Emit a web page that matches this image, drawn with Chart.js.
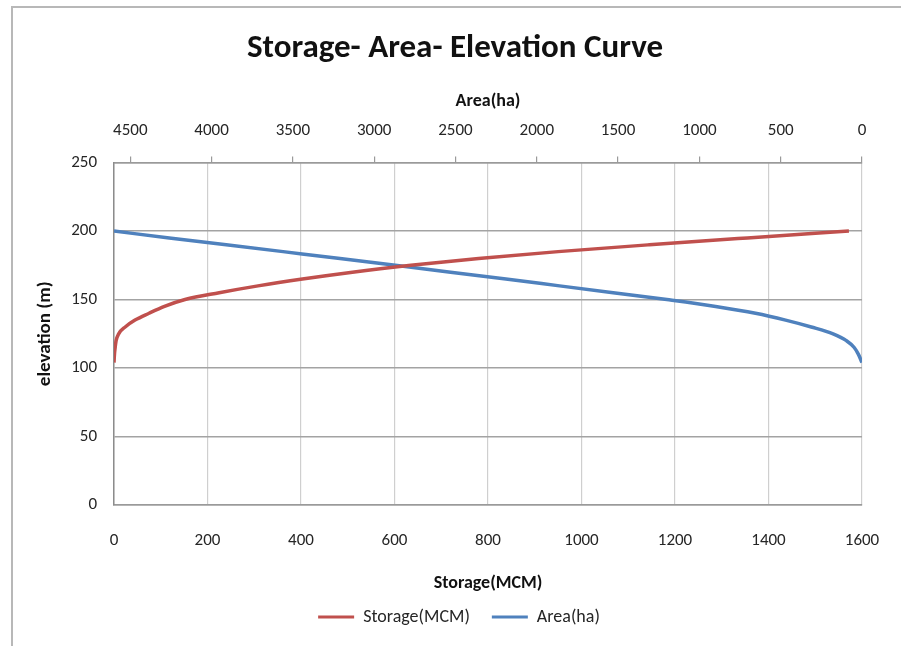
<!DOCTYPE html>
<html>
<head>
<meta charset="utf-8">
<title>Storage- Area- Elevation Curve</title>
<script src="https://cdn.jsdelivr.net/npm/chart.js@4.4.1/dist/chart.umd.min.js"></script>
<style>
  html, body { margin: 0; padding: 0; background: #fff; overflow: hidden; }
  #frame {
    position: absolute; left: 11px; top: 6px; width: 1000px; height: 1000px;
    border-left: 2px solid #b8b8b8; border-top: 2px solid #b8b8b8;
  }
  #chart { position: absolute; left: 0; top: 0; }
</style>
</head>
<body>
<div id="frame"></div>
<canvas id="chart" width="901" height="646"></canvas>
<script>
// Reservoir levels (m) with the matching storage and surface area
const elevation  = [104, 110, 115, 120, 125, 130, 135, 140, 145, 150, 155, 160, 165, 170, 175, 180, 185, 190, 195, 200];
const storageMCM = [0, 1, 2.5, 4.5, 10, 24, 45, 75, 108, 152, 225, 308, 403, 510, 635, 780, 950, 1145, 1355, 1572];
const areaHa     = [0, 22, 48, 96, 178, 312, 470, 655, 900, 1200, 1530, 1860, 2190, 2530, 2870, 3210, 3560, 3910, 4260, 4600];

// Axis tick values
const storageTicks   = [0, 200, 400, 600, 800, 1000, 1200, 1400, 1600];
const areaTicks      = [4500, 4000, 3500, 3000, 2500, 2000, 1500, 1000, 500, 0];
const elevationTicks = [0, 50, 100, 150, 200, 250];

const FONT = 'Carlito, Lato, "Open Sans", sans-serif';
const TEXT = '#262626';

const toPoints = (xs) => xs.map((v, i) => ({ x: v, y: elevation[i] }));
const fixedTicks = (values) => (scale) => { scale.ticks = values.map(v => ({ value: v })); };
const plainLabel = (value) => String(value);
const noSidePadding = (height) => (scale) => {
  scale.height = height;
  scale.paddingLeft = 0;
  scale.paddingRight = 0;
};

// Centres the title and legend rows a little right of the plot centre
const centreShift = {
  id: 'centreShift',
  afterLayout(chart) {
    const moves = [[chart.titleBlock, 19], [chart.legend, 23]];
    for (const [box, dx] of moves) {
      if (!box) continue;
      box.left += dx;
      box.right += dx;
    }
  }
};

new Chart(document.getElementById('chart'), {
  type: 'scatter',
  data: {
    datasets: [
      {
        label: 'Storage(MCM)',
        data: toPoints(storageMCM),
        xAxisID: 'x',
        yAxisID: 'y',
        showLine: true,
        borderColor: '#C0504D',
        backgroundColor: '#C0504D',
        borderWidth: 3.5,
        pointRadius: 0,
        cubicInterpolationMode: 'monotone'
      },
      {
        label: 'Area(ha)',
        data: toPoints(areaHa),
        xAxisID: 'x2',
        yAxisID: 'y',
        showLine: true,
        borderColor: '#4F81BD',
        backgroundColor: '#4F81BD',
        borderWidth: 3.5,
        pointRadius: 0,
        cubicInterpolationMode: 'monotone'
      }
    ]
  },
  options: {
    responsive: false,
    animation: false,
    layout: { padding: { top: 29, left: 10, right: 39, bottom: 10 } },
    plugins: {
      tooltip: { enabled: false },
      title: {
        display: true,
        text: 'Storage- Area- Elevation Curve',
        color: '#111',
        font: { family: FONT, size: 33, weight: 'bold' },
        padding: { top: 0, bottom: 0 }
      },
      legend: {
        position: 'bottom',
        labels: {
          color: TEXT,
          font: { family: FONT, size: 18 },
          boxWidth: 36,
          boxHeight: 3,
          padding: 22,
          generateLabels(chart) {
            return chart.data.datasets.map((ds, i) => ({
              text: ds.label,
              fillStyle: ds.borderColor,
              strokeStyle: ds.borderColor,
              lineWidth: 0,
              fontColor: TEXT,
              datasetIndex: i,
              hidden: false
            }));
          }
        }
      }
    },
    scales: {
      x: {
        type: 'linear',
        position: 'bottom',
        min: 0,
        max: 1600,
        afterBuildTicks: fixedTicks(storageTicks),
        afterFit: noSidePadding(81),
        grid: { color: '#cfcfcf', lineWidth: 1.2, drawTicks: false },
        border: { color: '#9a9a9a', width: 1.5 },
        ticks: { color: TEXT, font: { family: FONT, size: 17 }, padding: 26, maxRotation: 0, callback: plainLabel },
        title: {
          display: true,
          text: 'Storage(MCM)',
          color: '#111',
          font: { family: FONT, size: 18, weight: 'bold' },
          padding: { top: 0, bottom: -8 }
        }
      },
      x2: {
        type: 'linear',
        position: 'top',
        reverse: true,
        min: 0,
        max: 4600,
        afterBuildTicks: fixedTicks(areaTicks),
        afterFit: noSidePadding(94),
        grid: { drawOnChartArea: false, drawTicks: true, tickLength: 6, color: '#9a9a9a', lineWidth: 1.2 },
        border: { color: '#9a9a9a', width: 1.5 },
        ticks: { color: TEXT, font: { family: FONT, size: 17 }, padding: 16, maxRotation: 0, callback: plainLabel },
        title: {
          display: true,
          text: 'Area(ha)',
          color: '#111',
          font: { family: FONT, size: 18, weight: 'bold' },
          padding: { top: 22, bottom: 0 }
        }
      },
      y: {
        type: 'linear',
        position: 'left',
        min: 0,
        max: 250,
        afterBuildTicks: fixedTicks(elevationTicks),
        afterFit(scale) { scale.width = 104; },
        grid: { color: '#a3a3a3', lineWidth: 1.6, drawTicks: false },
        border: { color: '#8c8c8c', width: 1.5 },
        ticks: { color: TEXT, font: { family: FONT, size: 17 }, padding: 17, callback: plainLabel },
        title: {
          display: true,
          text: 'elevation (m)',
          color: '#111',
          font: { family: FONT, size: 19, weight: 'bold' },
          padding: { top: 24, bottom: 0 }
        }
      }
    }
  },
  plugins: [centreShift]
});
</script>
</body>
</html>
